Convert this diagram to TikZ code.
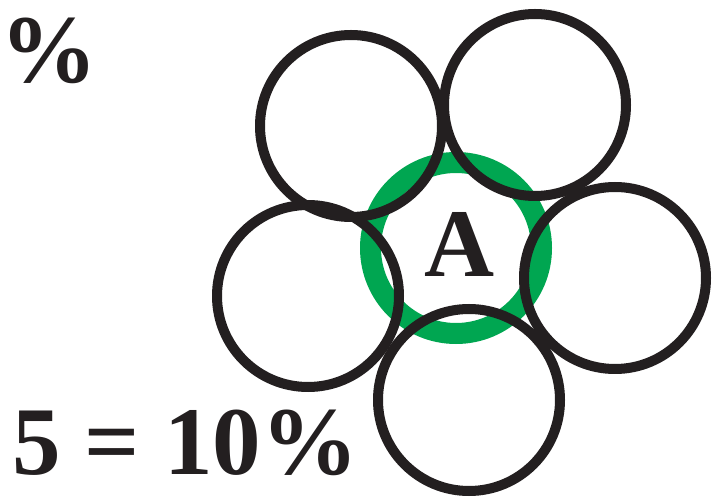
\documentclass[tikz,border=0pt]{standalone}
\usepackage{fontspec}
\setmainfont{Liberation Serif}
\definecolor{ringgreen}{RGB}{0,166,81}
\definecolor{ringblack}{RGB}{35,31,32}
\begin{document}
\begin{tikzpicture}[x=1pt,y=1pt,
  blackring/.style={circle,draw=ringblack,line width=10pt,minimum size=182pt,inner sep=0pt},
  greenring/.style={circle,draw=ringgreen,line width=21pt,minimum size=171pt,inner sep=0pt},
  bigtext/.style={inner sep=0pt,text=ringblack,font=\fontsize{97}{100}\selectfont\bfseries}]
\useasboundingbox (0,0) rectangle (715,498);
\node[greenring] (g) at (456,250) {};
\node[blackring] (c1) at (351,372) {};
\node[blackring] (c2) at (535,393) {};
\node[blackring] (c3) at (308,202) {};
\node[blackring] (c4) at (615,220) {};
\node[blackring] (c5) at (469,98) {};
\node[bigtext,anchor=base] (A) at (460,221) {A};
\node[bigtext,anchor=base west] (pct) at (0,415) {\%};
\node[bigtext,anchor=base west] (eq) at (12,23) {5 = 10\%};
\end{tikzpicture}
\end{document}
